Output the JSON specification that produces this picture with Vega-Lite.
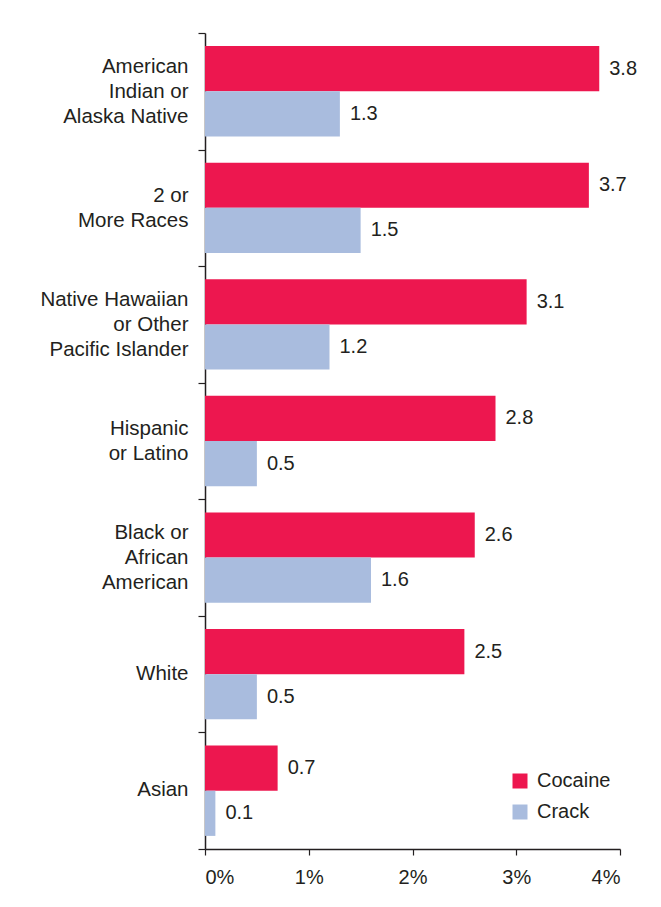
{
  "$schema": "https://vega.github.io/schema/vega-lite/v6.json",
  "autosize": {"type": "none"},
  "width": 415,
  "height": 816,
  "padding": {"left": 205, "top": 33, "right": 41, "bottom": 58},
  "background": "white",
  "config": {
    "view": {"stroke": null},
    "font": "Liberation Sans",
    "text": {"font": "Liberation Sans"}
  },
  "data": {
    "values": [
      {"race": "American|Indian or|Alaska Native", "drug": "Cocaine", "value": 3.8},
      {"race": "American|Indian or|Alaska Native", "drug": "Crack", "value": 1.3},
      {"race": "2 or\u00a0|More Races", "drug": "Cocaine", "value": 3.7},
      {"race": "2 or\u00a0|More Races", "drug": "Crack", "value": 1.5},
      {"race": "Native Hawaiian\u00a0|or Other\u00a0|Pacific Islander", "drug": "Cocaine", "value": 3.1},
      {"race": "Native Hawaiian\u00a0|or Other\u00a0|Pacific Islander", "drug": "Crack", "value": 1.2},
      {"race": "Hispanic\u00a0|or Latino", "drug": "Cocaine", "value": 2.8},
      {"race": "Hispanic\u00a0|or Latino", "drug": "Crack", "value": 0.5},
      {"race": "Black or|African|American", "drug": "Cocaine", "value": 2.6},
      {"race": "Black or|African|American", "drug": "Crack", "value": 1.6},
      {"race": "White", "drug": "Cocaine", "value": 2.5},
      {"race": "White", "drug": "Crack", "value": 0.5},
      {"race": "Asian", "drug": "Cocaine", "value": 0.7},
      {"race": "Asian", "drug": "Crack", "value": 0.1}
    ]
  },
  "encoding": {
    "y": {
      "field": "race",
      "type": "nominal",
      "sort": null,
      "title": null,
      "scale": {"paddingInner": 0, "paddingOuter": 0},
      "axis": {
        "labelExpr": "split(datum.label, '|')",
        "labelFontSize": 20.5,
        "labelLineHeight": 25,
        "labelColor": "#231F20",
        "labelPadding": 10,
        "labelLimit": 300,
        "labelOffset": {
          "condition": [
            {"test": "length(split(datum.value, '|')) == 3", "value": -25},
            {"test": "length(split(datum.value, '|')) == 2", "value": -12.5}
          ],
          "value": -1
        },
        "tickBand": "extent",
        "tickSize": 7,
        "tickColor": "#231F20",
        "tickWidth": 1.2,
        "domainColor": "#231F20",
        "domainWidth": 1.5
      }
    },
    "yOffset": {
      "field": "drug",
      "type": "nominal",
      "sort": ["Cocaine", "Crack"],
      "scale": {"paddingInner": 0, "paddingOuter": 0.29}
    },
    "x": {
      "field": "value",
      "type": "quantitative",
      "title": null,
      "scale": {"domain": [0, 4], "nice": false},
      "axis": {
        "values": [0, 1, 2, 3, 4],
        "labelExpr": "datum.value + '%'",
        "labelFontSize": 20,
        "labelColor": "#231F20",
        "labelPadding": 12,
        "tickSize": 6,
        "tickColor": "#231F20",
        "tickWidth": 1.2,
        "domainColor": "#231F20",
        "domainWidth": 1.5,
        "grid": false
      }
    }
  },
  "layer": [
    {
      "mark": {"type": "bar"},
      "encoding": {
        "color": {
          "field": "drug",
          "type": "nominal",
          "sort": ["Cocaine", "Crack"],
          "scale": {"domain": ["Cocaine", "Crack"], "range": ["#ED174F", "#A9BCDE"]},
          "legend": {
            "title": null,
            "orient": "none",
            "legendX": 305,
            "legendY": 738,
            "symbolType": "square",
            "symbolSize": 225,
            "symbolStrokeWidth": 0,
            "labelFontSize": 20,
            "labelColor": "#231F20",
            "labelOffset": 7,
            "rowPadding": 11
          }
        }
      }
    },
    {
      "mark": {"type": "text", "align": "left", "baseline": "middle", "dx": 10, "fontSize": 20, "color": "#231F20"},
      "encoding": {
        "text": {"field": "value", "type": "quantitative", "format": ".1f"}
      }
    }
  ]
}
